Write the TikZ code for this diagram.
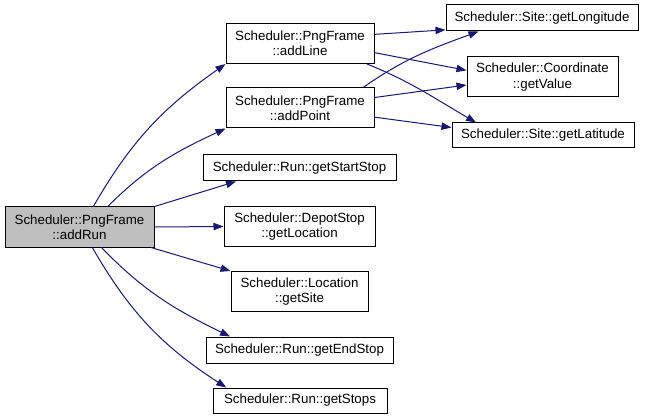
\documentclass[tikz,border=0pt]{standalone}
\usepackage{fontspec}
\setmainfont{Liberation Sans}
\usepackage{xcolor}
\usetikzlibrary{arrows.meta}
\definecolor{edgeblue}{HTML}{191970}
\definecolor{maingray}{HTML}{BFBFBF}

\begin{document}
\begin{tikzpicture}[x=0.75pt, y=0.75pt,
    boxstyle/.style={draw=black, line width=0.75pt, fill=white, rectangle,
      inner sep=0pt, align=center, font=\fontsize{10}{11.5}\selectfont},
    mainstyle/.style={boxstyle, fill=maingray},
    edgestyle/.style={-{Triangle[length=7.5pt,width=5.5pt]}, edgeblue, line width=0.75pt}]
  \useasboundingbox (0,0) rectangle (645,-420);
  % caller
  \node[mainstyle, minimum width=111.75pt, minimum height=30pt] (addRun) at (79.5,-227) {Scheduler::PngFrame\\::addRun};
  % middle column
  \node[boxstyle, minimum width=111pt, minimum height=30pt] (addLine) at (300,-43.5) {Scheduler::PngFrame\\::addLine};
  \node[boxstyle, minimum width=111pt, minimum height=30pt] (addPoint) at (300,-108) {Scheduler::PngFrame\\::addPoint};
  \node[boxstyle, minimum width=144.75pt, minimum height=19.5pt] (getStartStop) at (299.5,-168) {Scheduler::Run::getStartStop};
  \node[boxstyle, minimum width=113.25pt, minimum height=29.25pt] (getLocation) at (299.5,-226.5) {Scheduler::DepotStop\\::getLocation};
  \node[boxstyle, minimum width=102.75pt, minimum height=30pt] (getSite) at (299.5,-291.5) {Scheduler::Location\\::getSite};
  \node[boxstyle, minimum width=140.25pt, minimum height=19.5pt] (getEndStop) at (299.5,-350) {Scheduler::Run::getEndStop};
  \node[boxstyle, minimum width=130.5pt, minimum height=18.75pt] (getStops) at (300,-400.5) {Scheduler::Run::getStops};
  % right column
  \node[boxstyle, minimum width=144pt, minimum height=19.5pt] (getLongitude) at (542,-18) {Scheduler::Site::getLongitude};
  \node[boxstyle, minimum width=113.25pt, minimum height=30pt] (getValue) at (542.5,-77) {Scheduler::Coordinate\\::getValue};
  \node[boxstyle, minimum width=136.5pt, minimum height=18.75pt] (getLatitude) at (543,-135.5) {Scheduler::Site::getLatitude};
  % calls from addRun
  \draw[edgestyle] (addRun.56) to[out=60, in=215] (addLine.south west);
  \draw[edgestyle] (addRun.36) to[out=45, in=205] (addPoint.south west);
  \draw[edgestyle] (addRun.north east) -- (getStartStop.192);
  \draw[edgestyle] (addRun.east) -- (getLocation.west);
  \draw[edgestyle] (addRun.-16) -- (getSite.north west);
  \draw[edgestyle] (addRun.-43) to[out=-46, in=154] (getEndStop.169);
  \draw[edgestyle] (addRun.-58) to[out=-60, in=147] (getStops.170);
  % calls from addLine and addPoint
  \draw[edgestyle] (addLine.7) -- (getLongitude.187);
  \draw[edgestyle] (addLine.-7) -- (getValue.175);
  \draw[edgestyle] (addLine.-17) to[out=-22, in=150] (getLatitude.169);
  \draw[edgestyle] (addPoint.18) to[out=35, in=200] (getLongitude.192);
  \draw[edgestyle] (addPoint.8) -- (getValue.186);
  \draw[edgestyle] (addPoint.-7) -- (getLatitude.175);
\end{tikzpicture}
\end{document}
